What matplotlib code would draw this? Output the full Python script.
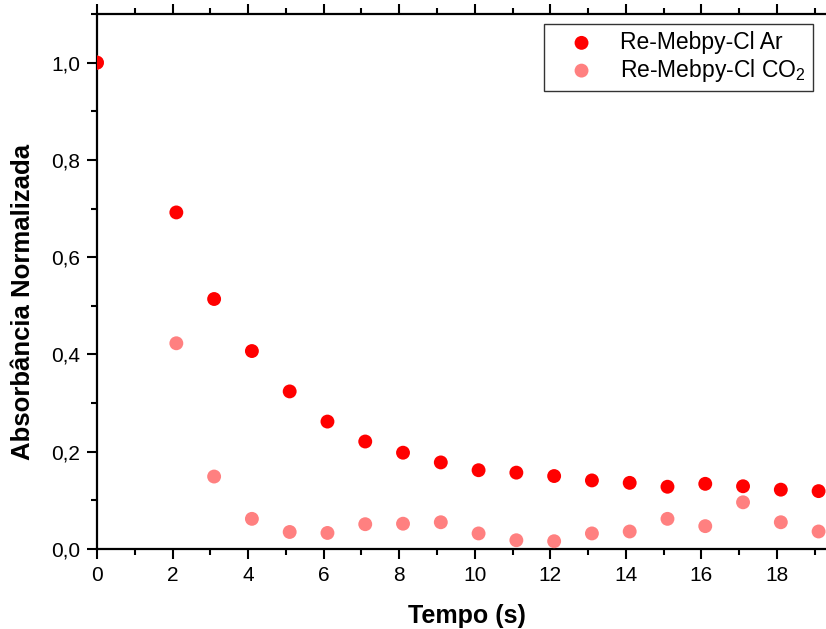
import matplotlib
matplotlib.use("Agg")
import matplotlib.pyplot as plt
from matplotlib.ticker import MultipleLocator

plt.rcParams['font.family'] = ['Liberation Sans', 'DejaVu Sans']

tempo = [0, 2.1, 3.1, 4.1, 5.1, 6.1, 7.1, 8.1, 9.1, 10.1, 11.1, 12.1, 13.1, 14.1, 15.1, 16.1, 17.1, 18.1, 19.1]
abs_ar = [1.0, 0.692, 0.514, 0.407, 0.324, 0.262, 0.221, 0.198, 0.178, 0.162, 0.157, 0.150, 0.141, 0.136, 0.128, 0.134, 0.129, 0.122, 0.119]
abs_co2 = [1.0, 0.423, 0.149, 0.062, 0.035, 0.033, 0.051, 0.052, 0.055, 0.032, 0.018, 0.016, 0.032, 0.036, 0.062, 0.047, 0.096, 0.055, 0.036]

label_ar = 'Re-Mebpy-Cl Ar'
label_co2 = r'Re-Mebpy-Cl CO$_\mathregular{2}$'

xticks = [0, 2, 4, 6, 8, 10, 12, 14, 16, 18]
yticks = [0.0, 0.2, 0.4, 0.6, 0.8, 1.0]
yticklabels = ['0,0', '0,2', '0,4', '0,6', '0,8', '1,0']

W, H = 826, 629
fig = plt.figure(figsize=(W / 100, H / 100), dpi=100)
left, right, top, bottom = 97, 837, 14, 549
ax = fig.add_axes([left / W, 1 - bottom / H, (right - left) / W, (bottom - top) / H])

ax.scatter(tempo, abs_co2, s=100, color='#FF8080', edgecolors='none', label=label_co2, zorder=3)
ax.scatter(tempo, abs_ar, s=100, color='#FF0000', edgecolors='none', label=label_ar, zorder=4)

ax.set_xlim(0, (right - left) / 37.78)
ax.set_ylim(0, 1.1)

ax.set_xticks(xticks)
ax.set_xticklabels([str(t) for t in xticks])
ax.set_yticks(yticks)
ax.set_yticklabels(yticklabels)
ax.xaxis.set_minor_locator(MultipleLocator(1))
ax.yaxis.set_minor_locator(MultipleLocator(0.1))

ax.tick_params(axis='both', which='major', direction='out', length=7, width=1.5, labelsize=15, pad=5)
ax.tick_params(axis='both', which='minor', direction='out', length=4, width=1.5)
ax.tick_params(axis='x', which='both', top=True, labeltop=False)
for sp in ax.spines.values():
    sp.set_linewidth(1.6)
ax.spines['right'].set_visible(False)

ax.set_xlabel('Tempo (s)', fontsize=18, fontweight='bold')
ax.xaxis.set_label_coords(0.5, -(616 - bottom) / (bottom - top), transform=ax.transAxes)
ax.xaxis.label.set_verticalalignment('center')
ax.set_ylabel('Absorbância Normalizada', fontsize=18.5, fontweight='bold')
ax.yaxis.set_label_coords(-(left - 23) / (right - left), (bottom - 302) / (bottom - top), transform=ax.transAxes)
ax.yaxis.label.set_verticalalignment('center')

handles, labels = ax.get_legend_handles_labels()
order = [1, 0]
leg = ax.legend([handles[i] for i in order], [labels[i] for i in order],
                loc='upper right', bbox_to_anchor=((813 - left) / (right - left), 1 - (24 - top) / (bottom - top)),
                fontsize=16.5, frameon=True, fancybox=False, edgecolor='black',
                borderpad=0.3, labelspacing=0.12, handlelength=2.7, handletextpad=0.35,
                borderaxespad=0)
leg.get_frame().set_linewidth(1.0)

fig.savefig('out.png', dpi=100)
